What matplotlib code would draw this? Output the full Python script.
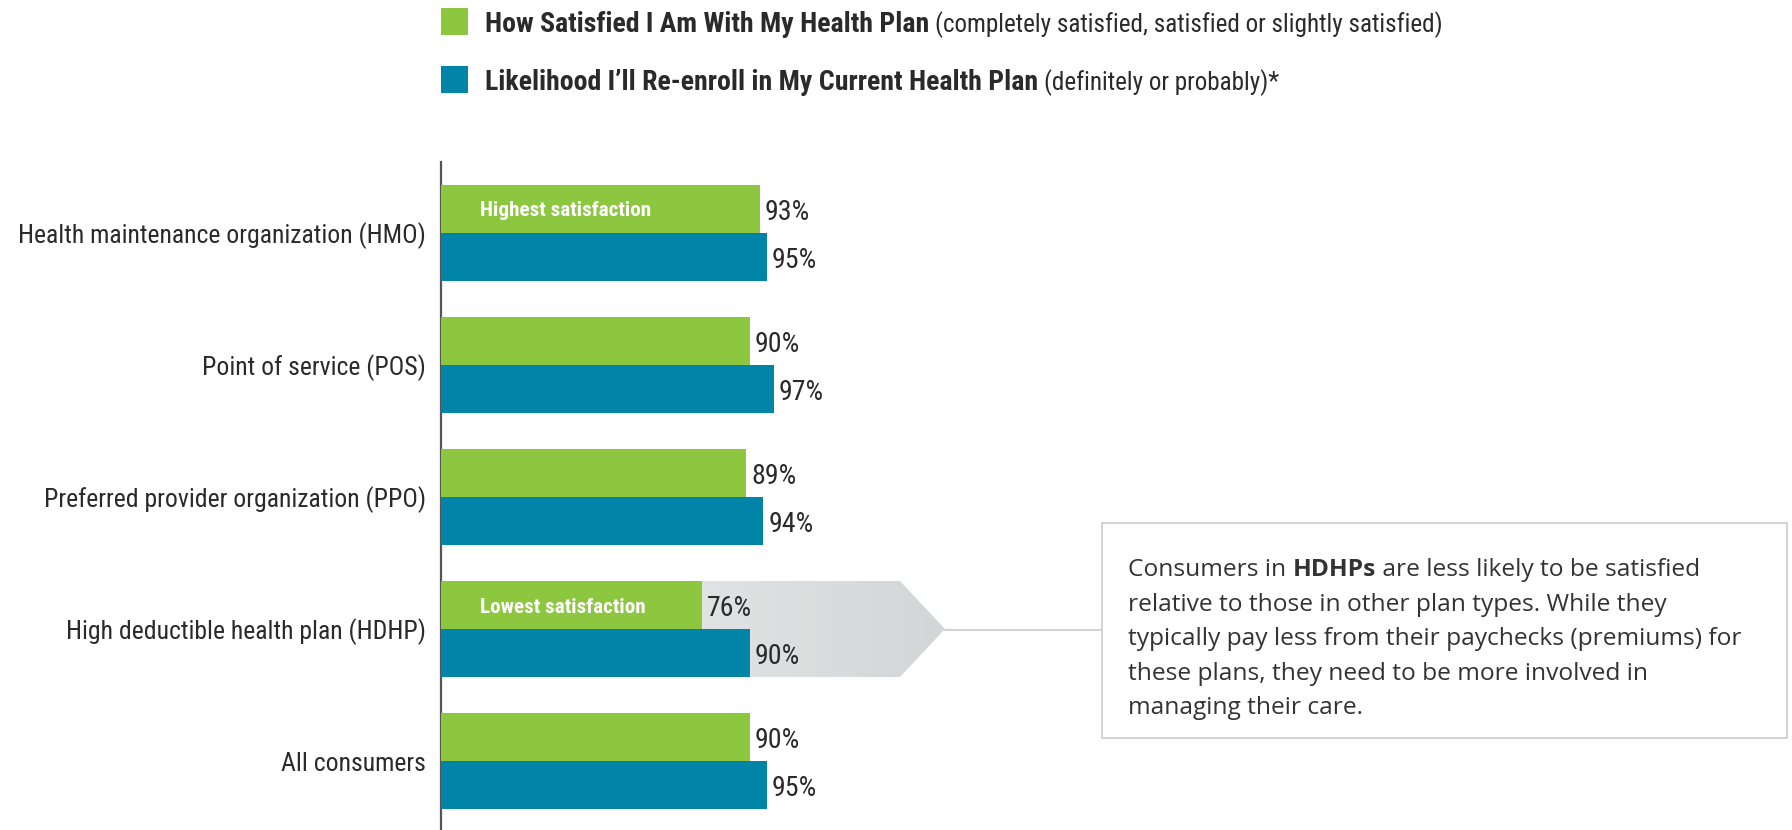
import matplotlib
matplotlib.use("Agg")
import matplotlib.pyplot as plt
import numpy as np
from matplotlib import font_manager as fm
from matplotlib.patches import Polygon, Rectangle
from matplotlib.colors import LinearSegmentedColormap

# ---- data -------------------------------------------------------------
categories = [
    "Health maintenance organization (HMO)",
    "Point of service (POS)",
    "Preferred provider organization (PPO)",
    "High deductible health plan (HDHP)",
    "All consumers",
]
satisfied = [93, 90, 89, 76, 90]
reenroll = [95, 97, 94, 90, 95]

legend_bold = [
    "How Satisfied I Am With My Health Plan",
    "Likelihood I\u2019ll Re-enroll in My Current Health Plan",
]
legend_note = [
    "(completely satisfied, satisfied or slightly satisfied)",
    "(definitely or probably)*",
]
bar_notes = {0: "Highest satisfaction", 3: "Lowest satisfaction"}
highlight_index = 3
callout_lines = [
    [("Consumers in ", "normal"), ("HDHPs", "bold"), (" are less likely to be satisfied", "normal")],
    [("relative to those in other plan types. While they", "normal")],
    [("typically pay less from their paychecks (premiums) for", "normal")],
    [("these plans, they need to be more involved in", "normal")],
    [("managing their care.", "normal")],
]

# ---- style ------------------------------------------------------------
GREEN = "#8dc63f"
BLUE = "#0085a9"
TEXT = "#2a2a2a"


def narrow_font():
    """Pick a condensed sans family if one is installed."""
    entries = fm.fontManager.ttflist

    def has(name, stretches=None):
        return any(f.name == name and (stretches is None or str(f.stretch) in stretches)
                   for f in entries)

    for fam in ["Liberation Sans Narrow", "Roboto Condensed", "Open Sans Condensed"]:
        if has(fam):
            return dict(family=fam, fontstretch="normal")
    for fam in ["Noto Sans", "Roboto", "Open Sans", "DejaVu Sans"]:
        if has(fam, ("condensed", "semi-condensed")):
            return dict(family=fam, fontstretch="condensed")
    return dict(family="Lato", fontstretch="normal")


NARROW = narrow_font()
BODY = dict(family="Open Sans")

W, H = 1792, 830
fig = plt.figure(figsize=(W / 100, H / 100), dpi=100)
renderer = fig.canvas.get_renderer()


def fx(px):
    return px / W


def fy(py):
    return 1 - py / H


def fit_size(text, target_px, weight="normal", **font):
    t = fig.text(0, 0, text, fontsize=20, fontweight=weight, **font)
    w = t.get_window_extent(renderer).width
    t.remove()
    return 20 * target_px / w


# font sizes chosen so key strings span the intended widths
cat_size = fit_size(categories[0], 409, **NARROW)
val_size = cat_size * 1.08
note_size = fit_size(bar_notes[0], 170, "bold", **NARROW)
leg_bold_size = fit_size(legend_bold[0], 444, "bold", **NARROW)
leg_note_size = fit_size(legend_note[0], 508, **NARROW)
body_size = fit_size("Consumers in HDHPs are less likely to be satisfied", 566, **BODY)

axis_x = 441
axis_top = 162
px_per_pct = 3.43
group_px = 132
bar_px = 48

ax = fig.add_axes([fx(axis_x), 0, fx(W - axis_x), (H - axis_top) / H])
xmax = (W - axis_x) / px_per_pct
n = len(categories)
ylim = (n - 1 + 69 / group_px, -71 / group_px)
ax.patch.set_alpha(0)

h = bar_px / group_px
ys = np.arange(n)

ax.barh(ys - h / 2, satisfied, height=h, color=GREEN, zorder=3)
ax.barh(ys + h / 2, reenroll, height=h, color=BLUE, zorder=3)

# category labels
for i, cat in enumerate(categories):
    ax.text(-15 / px_per_pct, ys[i], cat, ha="right", va="center_baseline", fontsize=cat_size,
            color=TEXT, clip_on=False, **NARROW)

# value labels
for i in range(n):
    ax.text(satisfied[i] + 5 / px_per_pct, ys[i] - h / 2, f"{satisfied[i]}%",
            va="center_baseline", ha="left", fontsize=val_size, color=TEXT, zorder=5, **NARROW)
    ax.text(reenroll[i] + 5 / px_per_pct, ys[i] + h / 2, f"{reenroll[i]}%",
            va="center_baseline", ha="left", fontsize=val_size, color=TEXT, zorder=5, **NARROW)

# notes inside the satisfaction bars
for i, note in bar_notes.items():
    ax.text(39 / px_per_pct, ys[i] - h / 2, note, va="center_baseline", ha="left",
            fontsize=note_size, fontweight="bold", color="white", zorder=5, **NARROW)

# grey pointer behind the highlighted group
yi = ys[highlight_index]
body_end = (900 - axis_x) / px_per_pct
tip = (945 - axis_x) / px_per_pct
shape = Polygon([(0, yi - h), (body_end, yi - h), (tip, yi), (body_end, yi + h), (0, yi + h)],
                closed=True, facecolor="none", edgecolor="none", transform=ax.transData)
ax.add_patch(shape)
grad = np.linspace(0, 1, 256).reshape(1, -1)
cmap = LinearSegmentedColormap.from_list("pointer", ["#eff0f0", "#d4d5d6"])
im = ax.imshow(grad, extent=[0, tip, yi + h, yi - h], aspect="auto", cmap=cmap,
               zorder=1, interpolation="bicubic")
im.set_clip_path(shape)
ax.set_xlim(0, xmax)
ax.set_ylim(*ylim)

# axis styling
ax.set_yticks([])
ax.set_xticks([])
for side in ["top", "right", "bottom"]:
    ax.spines[side].set_visible(False)
ax.spines["left"].set_color("#555555")
ax.spines["left"].set_linewidth(1.6)

# callout box and connector
box_l, box_t, box_r, box_b = 1102, 523, 1787, 738
tip_px = 945
conn_y = 630
fig.add_artist(plt.Line2D([fx(tip_px), fx(box_l)], [fy(conn_y), fy(conn_y)],
                          color="#d3d3d3", lw=1.5, transform=fig.transFigure))
fig.add_artist(Rectangle((fx(box_l), fy(box_b)), fx(box_r - box_l), (box_b - box_t) / H,
                         facecolor="white", edgecolor="#d0d0d0", lw=1.3,
                         transform=fig.transFigure))


def draw_runs(x, y, parts, **kw):
    for s, weight in parts:
        t = fig.text(fx(x), fy(y), s, fontweight=weight, va="center_baseline", ha="left", **kw)
        x += t.get_window_extent(renderer).width


line_y0 = 567
line_step = 34.5
for k, parts in enumerate(callout_lines):
    draw_runs(1128, line_y0 + k * line_step, parts, fontsize=body_size, color="#333333", **BODY)

# legend
legend_rows = [(22, GREEN), (80, BLUE)]
for (row_y, col), bold, note in zip(legend_rows, legend_bold, legend_note):
    fig.add_artist(Rectangle((fx(441), fy(row_y + 13.5)), fx(27), 27 / H,
                             facecolor=col, edgecolor="none", transform=fig.transFigure))
    t = fig.text(fx(485), fy(row_y), bold, fontsize=leg_bold_size, fontweight="bold",
                 va="center_baseline", ha="left", color=TEXT, **NARROW)
    x_note = 485 + t.get_window_extent(renderer).width + 6
    fig.text(fx(x_note), fy(row_y), note, fontsize=leg_note_size, va="center_baseline",
             ha="left", color=TEXT, **NARROW)

fig.savefig("out.png", dpi=100)
